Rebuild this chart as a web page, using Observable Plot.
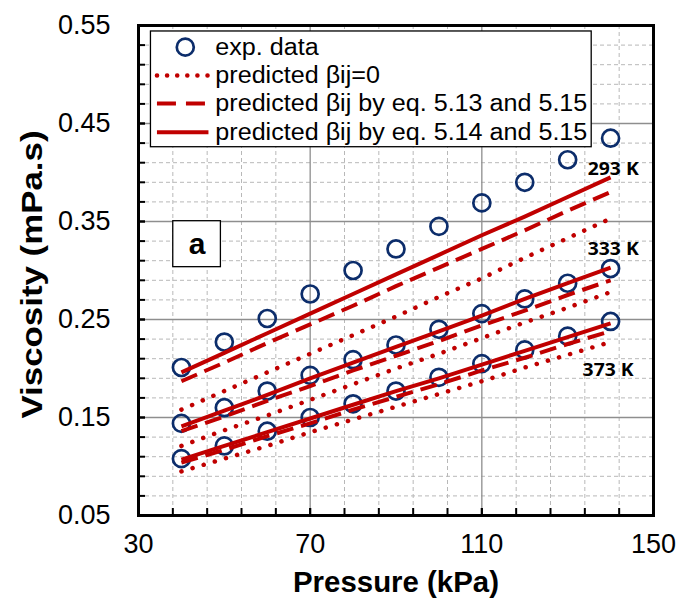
<!DOCTYPE html>
<html><head><meta charset="utf-8">
<script src="https://cdn.jsdelivr.net/npm/d3@7"></script>
<script src="https://cdn.jsdelivr.net/npm/@observablehq/plot@0.6"></script>
<style>body{margin:0;background:#fff} svg{display:block}</style>
</head><body><div id="chart"></div>
<script>
// ---- data ----
const pressure = [40, 50, 60, 70, 80, 90, 100, 110, 120, 130, 140];
const exp293 = [0.201, 0.227, 0.251, 0.276, 0.300, 0.322, 0.345, 0.369, 0.390, 0.413, 0.435];
const exp333 = [0.144, 0.160, 0.177, 0.193, 0.209, 0.224, 0.240, 0.256, 0.271, 0.287, 0.302];
const exp373 = [0.108, 0.121, 0.136, 0.150, 0.164, 0.177, 0.191, 0.205, 0.219, 0.233, 0.248];
const sol293 = [0.196, 0.216, 0.236, 0.256, 0.276, 0.296, 0.316, 0.336, 0.355, 0.375, 0.395];
const das293 = [0.187, 0.206, 0.226, 0.245, 0.264, 0.284, 0.303, 0.322, 0.341, 0.361, 0.380];
const dot293 = [0.158, 0.177, 0.196, 0.215, 0.234, 0.253, 0.273, 0.292, 0.313, 0.333, 0.353];
const sol333 = [0.141, 0.157, 0.173, 0.190, 0.206, 0.222, 0.238, 0.254, 0.271, 0.287, 0.303];
const das333 = [0.136, 0.151, 0.167, 0.182, 0.198, 0.213, 0.228, 0.244, 0.259, 0.275, 0.290];
const dot333 = [0.121, 0.137, 0.152, 0.168, 0.184, 0.200, 0.215, 0.231, 0.247, 0.262, 0.278];
const sol373 = [0.107, 0.121, 0.135, 0.149, 0.163, 0.177, 0.190, 0.204, 0.218, 0.232, 0.246];
const das373 = [0.104, 0.117, 0.131, 0.144, 0.158, 0.171, 0.184, 0.198, 0.211, 0.225, 0.238];
const dot373 = [0.095, 0.108, 0.121, 0.135, 0.148, 0.161, 0.174, 0.187, 0.201, 0.214, 0.227];
const tempLabels = ["293 K", "333 K", "373 K"];
const legendLabels = ["exp. data", "predicted βij=0", "predicted βij by eq. 5.13 and 5.15", "predicted βij by eq. 5.14 and 5.15"];
const xTickValues = [30, 70, 110, 150];
const xTickLabels = ["30", "70", "110", "150"];
const yTickValues = [0.05, 0.15, 0.25, 0.35, 0.45, 0.55];
const yTickLabels = ["0.05", "0.15", "0.25", "0.35", "0.45", "0.55"];
const panelLabel = "a";
const xTitle = "Pressure (kPa)";
const yTitle = "Viscosity (mPa.s)";

// ---- derived ----
const xMinorAll = d3.range(38, 150, 8);           // minor unit 8
const yMinorAll = d3.range(0, 25).map(k => +(0.07 + 0.02 * k).toFixed(2)).filter(v => v < 0.55);
const xMajorGrid = [70, 110];
const yMajorGrid = [0.15, 0.25, 0.35, 0.45];
const isMajorY = v => yMajorGrid.some(m => Math.abs(m - v) < 1e-6);
const xMinorGrid = xMinorAll.filter(v => !xMajorGrid.includes(v));
const yMinorGrid = yMinorAll.filter(v => !isMajorY(v));

const RED = "#C00000", NAVY = "#0c2d6b";
const pts = ys => pressure.map((x, i) => ({x, y: ys[i]}));
const series = [
  {exp: exp293, sol: sol293, das: das293, dot: dot293},
  {exp: exp333, sol: sol333, das: das333, dot: dot333},
  {exp: exp373, sol: sol373, das: das373, dot: dot373}
];
const dotStyle = {stroke: RED, strokeWidth: 4.5, strokeDasharray: "0.1,11.5", strokeLinecap: "round"};
const dashStyle = {stroke: RED, strokeWidth: 4, strokeDasharray: "17,8", strokeLinecap: "butt"};
const solidStyle = {stroke: RED, strokeWidth: 4, strokeLinecap: "butt"};
const circleStyle = {r: 8.5, stroke: NAVY, strokeWidth: 2.7, fill: "none"};

const W = 679, H = 607, mL = 138, mR = 26, mT = 25, mB = 92;
const innerW = W - mL - mR, innerH = H - mT - mB;

const marks = [
  Plot.ruleX(xMinorGrid, {stroke: "#b8b8b8", strokeWidth: 1, strokeDasharray: "4,3"}),
  Plot.ruleY(yMinorGrid, {stroke: "#b8b8b8", strokeWidth: 1, strokeDasharray: "4,3"}),
  Plot.ruleX(xMajorGrid, {stroke: "#8e8e8e", strokeWidth: 1.3}),
  Plot.ruleY(yMajorGrid, {stroke: "#8e8e8e", strokeWidth: 1.3}),
  // legend box and panel box
  Plot.rect([0], {x1: () => 32.9, x2: () => 135.6, y1: () => 0.4258, y2: () => 0.5439, fill: "white", stroke: "black", strokeWidth: 1.3}),
  Plot.rect([0], {x1: () => 38.1, x2: () => 49.2, y1: () => 0.3034, y2: () => 0.3503, fill: "white", stroke: "black", strokeWidth: 1.3}),
  Plot.text([panelLabel], {x: () => 43.65, y: () => 0.3269, fontSize: 30, fontWeight: "bold", fill: "black"})
];
for (const s of series) marks.push(Plot.dot(pts(s.exp), {x: "x", y: "y", ...circleStyle}));
for (const s of series) {
  marks.push(Plot.line(pts(s.dot), {x: "x", y: "y", ...dotStyle}));
  marks.push(Plot.line(pts(s.das), {x: "x", y: "y", ...dashStyle}));
  marks.push(Plot.line(pts(s.sol), {x: "x", y: "y", ...solidStyle}));
}
// legend entries
const legY = [0.5279, 0.4990, 0.4704, 0.4411];
const legLine = (yy) => [{x: 34.3, y: yy}, {x: 46.3, y: yy}];
marks.push(
  Plot.dot([0], {x: () => 40.9, y: () => legY[0], ...circleStyle}),
  Plot.line(legLine(legY[1]), {x: "x", y: "y", ...dotStyle, strokeDasharray: "0.1,10"}),
  Plot.line(legLine(legY[2]), {x: "x", y: "y", ...dashStyle, strokeDasharray: "19,10"}),
  Plot.line(legLine(legY[3]), {x: "x", y: "y", ...solidStyle}),
  Plot.text(legendLabels, {x: () => 47.9, y: (d, i) => legY[i], textAnchor: "start", fontSize: 23, fill: "black"})
);
// temperature labels
const tX = [140.7, 140.7, 139.5], tY = [0.4038, 0.3221, 0.198];
marks.push(Plot.text(tempLabels, {x: (d, i) => tX[i], y: (d, i) => tY[i], fontSize: 18.5, fontWeight: "bold", fontFamily: "Open Sans, Lato, sans-serif", fill: "black"}));
// inward ticks
marks.push(
  Plot.tickX([...xMinorAll, ...xMajorGrid], {x: d => d, insetTop: innerH - 7, stroke: "black", strokeWidth: 2}),
  Plot.tickY([...yMinorAll, ...yMajorGrid], {y: d => d, insetRight: innerW - 7, stroke: "black", strokeWidth: 2}),
  Plot.frame({stroke: "black", strokeWidth: 3})
);
// tick labels & titles
marks.push(
  Plot.text(xTickValues, {x: d => d, text: (d, i) => xTickLabels[i], frameAnchor: "bottom", dy: 37, fontSize: 27, fill: "black"}),
  Plot.text(yTickValues, {y: d => d, text: (d, i) => yTickLabels[i], frameAnchor: "left", dx: -28, textAnchor: "end", fontSize: 27, fill: "black"}),
  Plot.text([xTitle], {frameAnchor: "bottom", dy: 76, fontSize: 29, fontWeight: "bold", fill: "black"}),
  Plot.text([yTitle], {frameAnchor: "left", dx: -106, dy: 4, rotate: -90, fontSize: 29, fontWeight: "bold", fill: "black"})
);

const chart = Plot.plot({
  width: W, height: H,
  marginLeft: mL, marginRight: mR, marginTop: mT, marginBottom: mB,
  style: {fontFamily: "Liberation Sans, Arial, sans-serif", background: "white", overflow: "visible"},
  x: {domain: [30, 150], axis: null},
  y: {domain: [0.05, 0.55], axis: null},
  marks
});
document.getElementById("chart").append(chart);

// horizontal stretch of some texts to match the reference's text widths
const texts = Array.from(chart.querySelectorAll("text"));
const setLen = (t, len) => { t.setAttribute("textLength", len); t.setAttribute("lengthAdjust", "spacingAndGlyphs"); };
const recenter = (t) => {
  // keep a middle-anchored stretched text centred on its anchor point
  const x0 = +(t.getAttribute("x") || 0);
  const bb = t.getBBox();
  const rc = bb.x + bb.width / 2;
  t.setAttribute("x", x0 + (x0 - rc));
};
const longest = texts.find(t => t.textContent === legendLabels[3]);
if (longest) {
  const f = 372 / longest.getComputedTextLength();
  texts.filter(t => legendLabels.includes(t.textContent)).forEach(t => setLen(t, t.getComputedTextLength() * f));
}
texts.forEach(t => {
  if (t.textContent === yTitle) { setLen(t, 288); recenter(t); }
  if (t.textContent === xTitle) { setLen(t, 206); recenter(t); }
  if (tempLabels.includes(t.textContent)) { setLen(t, 51); recenter(t); }
});
</script>
</body></html>
